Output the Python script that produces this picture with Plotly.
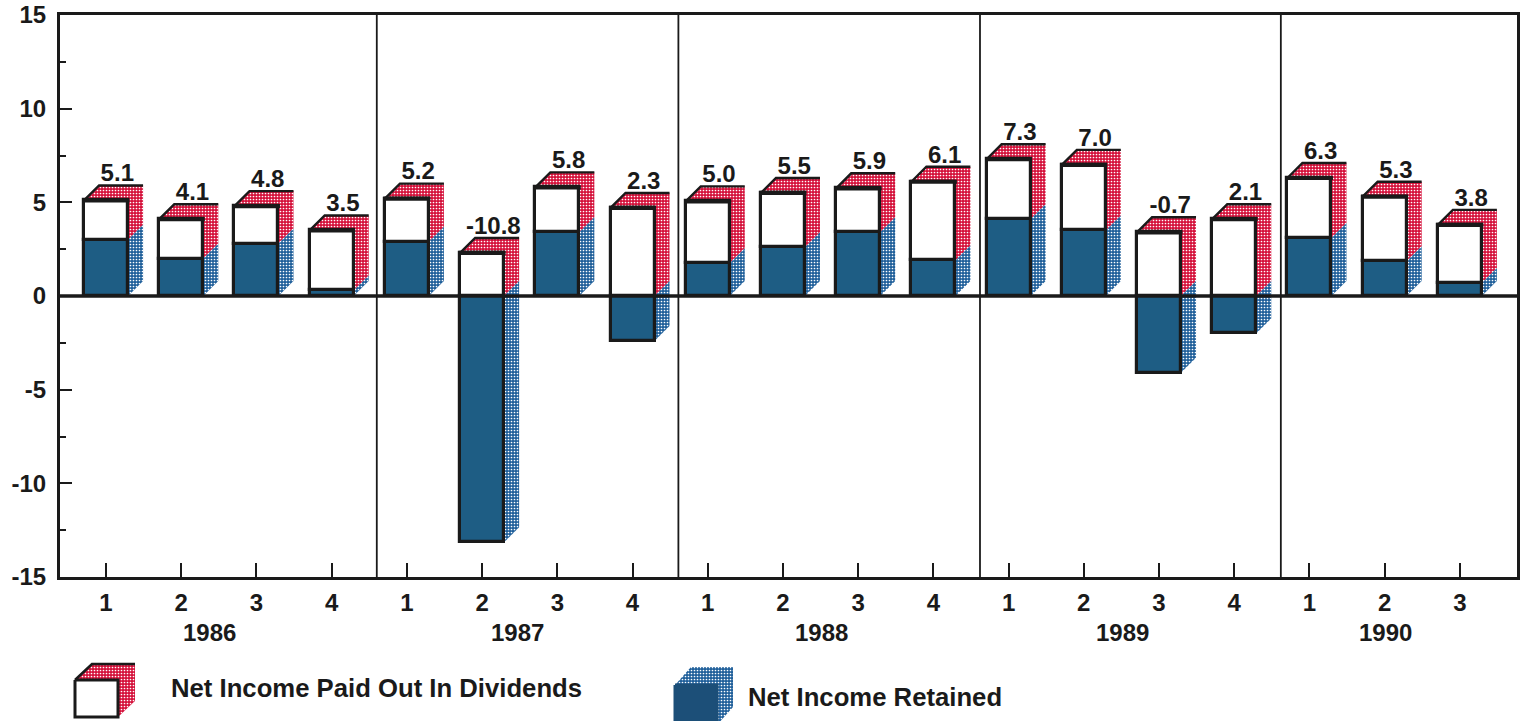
import plotly.graph_objects as go

# ---- data -------------------------------------------------------------
quarters = ["1","2","3","4", "1","2","3","4", "1","2","3","4", "1","2","3","4", "1","2","3"]
years = ["1986", "1987", "1988", "1989", "1990"]
net_income_labels = ["5.1","4.1","4.8","3.5", "5.2","-10.8","5.8","2.3", "5.0","5.5","5.9","6.1",
                     "7.3","7.0","-0.7","2.1", "6.3","5.3","3.8"]
dividends = [2.1,2.1,2.0,3.2, 2.3,2.3,2.4,4.7, 3.3,2.9,2.35,4.2, 3.2,3.5,3.4,4.1, 3.2,3.45,3.1]
retained = [3.0,2.0,2.8,0.3, 2.9,-13.15,3.4,-2.4, 1.75,2.6,3.4,1.9, 4.1,3.5,-4.1,-2.0, 3.1,1.85,0.7]
y_ticks = [-15, -10, -5, 0, 5, 10, 15]
y_tick_labels = ["-15", "-10", "-5", "0", "5", "10", "15"]
y_minor_ticks = [-12.5, -7.5, -2.5, 2.5, 7.5, 12.5]
legend_names = ["Net Income Paid Out In Dividends", "Net Income Retained"]

# ---- layout constants --------------------------------------------------
W, H = 1524, 721
PX_L, PX_R, PX_T, PX_B = 60, 1517, 15, 577
X_RANGE = [-0.612, 18.76]
Y_RANGE = [-15, 15]
BAR_W = 0.585
DX, DY = 0.2, 0.8          # depth of the 3-D look, in axis units
SEPARATORS = [3.6, 7.61, 11.62, 15.62]
YEAR_POS = [1.38, 5.47, 9.52, 13.52, 17.02]
LABEL_DX = 0.15

BLACK = "#1a1a1a"
RED = "#d5103a"
BLUE = "#1e5d84"
BLUE_SIDE = "#1f5f9a"
FONT = "Liberation Sans"

x = list(range(len(quarters)))
base = [max(r, 0) for r in retained]
top = [b + d for b, d in zip(base, dividends)]
lo = [min(r, 0) for r in retained]


def polys(rows):
    xs, ys = [], []
    for pts in rows:
        xs += [p[0] for p in pts] + [pts[0][0], None]
        ys += [p[1] for p in pts] + [pts[0][1], None]
    return xs, ys


def pattern(fg, bg):
    return dict(shape=".", fgcolor=fg, bgcolor=bg, size=3, solidity=0.25, fillmode="replace")


red_faces, blue_faces, edge_x, edge_y = [], [], [], []
for i in x:
    l, r = i - BAR_W / 2, i + BAR_W / 2
    red_faces.append([(l, top[i]), (l + DX, top[i] + DY), (r + DX, top[i] + DY), (r, top[i])])
    red_faces.append([(r, top[i]), (r + DX, top[i] + DY), (r + DX, base[i] + DY), (r, base[i])])
    blue_faces.append([(r, base[i]), (r + DX, base[i] + DY), (r + DX, lo[i] + DY), (r, lo[i])])
    edge_x += [l, l + DX, r + DX, None]
    edge_y += [top[i], top[i] + DY, top[i] + DY, None]

fig = go.Figure()
rx, ry = polys(red_faces)
bx, by = polys(blue_faces)
fig.add_trace(go.Scatter(x=rx, y=ry, mode="none", fill="toself", fillcolor=RED,
                         fillpattern=pattern("#ffffff", RED), hoverinfo="skip", showlegend=False))
fig.add_trace(go.Scatter(x=bx, y=by, mode="none", fill="toself", fillcolor=BLUE_SIDE,
                         fillpattern=pattern("#ffffff", BLUE_SIDE), hoverinfo="skip", showlegend=False))
fig.add_trace(go.Scatter(x=edge_x, y=edge_y, mode="lines", line=dict(color=BLACK, width=2.4),
                         hoverinfo="skip", showlegend=False))

# front faces sit on an overlaying copy of the axes so they cover the faces above
fig.add_trace(go.Bar(x=x, y=retained, width=BAR_W, base=[0] * len(x), name=legend_names[1],
                     marker=dict(color=BLUE, line=dict(color=BLACK, width=3.2)),
                     xaxis="x2", yaxis="y2", showlegend=False))
fig.add_trace(go.Bar(x=x, y=dividends, width=BAR_W, base=base, name=legend_names[0],
                     marker=dict(color="#ffffff", line=dict(color=BLACK, width=3.2)),
                     xaxis="x2", yaxis="y2", showlegend=False))
# heavier front-top edge
tx, ty = [], []
for i in x:
    tx += [i - BAR_W / 2 - 0.02, i + BAR_W / 2 + 0.02, None]
    ty += [top[i], top[i], None]
fig.add_trace(go.Scatter(x=tx, y=ty, mode="lines", line=dict(color=BLACK, width=4.2),
                         xaxis="x2", yaxis="y2", hoverinfo="skip", showlegend=False))
fig.add_trace(go.Scatter(x=[i + LABEL_DX for i in x], y=[t + DY - 0.1 for t in top],
                         mode="text", text=net_income_labels, textposition="top center",
                         textfont=dict(family=FONT, size=24, color=BLACK, weight="bold"),
                         xaxis="x2", yaxis="y2", hoverinfo="skip", showlegend=False))


# legend swatches, on a page-pixel subplot
def swatch(left, right, top_px, bottom_px, dx, dy, front, face, side):
    fx, fy = polys([[(left, top_px), (left + dx, top_px - dy), (right + dx, top_px - dy), (right, top_px)],
                     [(right, top_px), (right + dx, top_px - dy), (right + dx, bottom_px - dy), (right, bottom_px)]])
    fig.add_trace(go.Scatter(x=fx, y=fy, mode="none", fill="toself", fillcolor=face,
                             fillpattern=pattern("#ffffff", side), xaxis="x3", yaxis="y3",
                             hoverinfo="skip", showlegend=False))
    gx, gy = polys([[(left, top_px), (right, top_px), (right, bottom_px), (left, bottom_px)]])
    fig.add_trace(go.Scatter(x=gx, y=gy, mode="lines", fill="toself", fillcolor=front,
                             line=dict(color=BLACK if front == "#ffffff" else front, width=3),
                             xaxis="x3", yaxis="y3", hoverinfo="skip", showlegend=False))
    if front == "#ffffff":
        fig.add_trace(go.Scatter(x=[left, left + dx, right + dx], y=[top_px, top_px - dy, top_px - dy],
                                 mode="lines", line=dict(color=BLACK, width=2.6), xaxis="x3", yaxis="y3",
                                 hoverinfo="skip", showlegend=False))


swatch(75, 118, 680, 717, 17, 16, "#ffffff", RED, RED)
swatch(675, 717, 685, 725, 16, 18, "#1c4f78", BLUE_SIDE, BLUE_SIDE)

axis_common = dict(showgrid=False, zeroline=False, automargin=False)
ann = [dict(x=p, y=632, xref="x3", yref="y3", text=f"<b>{t}</b>", showarrow=False, xanchor="center",
            yanchor="middle", font=dict(family=FONT, size=24, color=BLACK))
       for p, t in zip([106 + 75.2 * q for q in YEAR_POS], years)]
ann += [dict(x=169, y=688, xref="x3", yref="y3", text=f"<b>{legend_names[0]}</b>", showarrow=False,
             xanchor="left", yanchor="middle", font=dict(family=FONT, size=25.7, color=BLACK)),
        dict(x=746, y=697, xref="x3", yref="y3", text=f"<b>{legend_names[1]}</b>", showarrow=False,
             xanchor="left", yanchor="middle", font=dict(family=FONT, size=25.7, color=BLACK))]

shapes = [dict(type="line", xref="x", yref="paper", x0=s, x1=s, y0=(H - PX_B) / H, y1=(H - PX_T) / H,
               line=dict(color=BLACK, width=1.8), layer="above") for s in SEPARATORS]
shapes.append(dict(type="line", xref="x", yref="y", x0=X_RANGE[0], x1=X_RANGE[1], y0=0, y1=0,
                   line=dict(color=BLACK, width=3.6), layer="above"))

dom_x = [PX_L / W, PX_R / W]
dom_y = [(H - PX_B) / H, (H - PX_T) / H]
fig.update_layout(
    width=W, height=H, margin=dict(l=0, r=0, t=0, b=0), paper_bgcolor="#ffffff", plot_bgcolor="rgba(0,0,0,0)",
    showlegend=False, barmode="overlay", bargap=0, annotations=ann, shapes=shapes,
    xaxis=dict(domain=dom_x, range=X_RANGE, tickmode="array", tickvals=x, ticktext=quarters,
               ticks="inside", ticklen=14, tickwidth=1.8, tickcolor=BLACK, showline=True, linewidth=3,
               linecolor=BLACK, mirror=True, ticklabelstandoff=2,
               tickfont=dict(family=FONT, size=24, color=BLACK, weight="bold"), **axis_common),
    yaxis=dict(domain=dom_y, range=Y_RANGE, tickmode="array", tickvals=y_ticks, ticktext=y_tick_labels,
               ticks="inside", ticklen=12, tickwidth=1.8, tickcolor=BLACK, showline=True, linewidth=3,
               linecolor=BLACK, mirror=True, ticklabelstandoff=6,
               minor=dict(tickmode="array", tickvals=y_minor_ticks, ticks="inside",
                          ticklen=6, tickwidth=1.6, tickcolor=BLACK),
               tickfont=dict(family=FONT, size=24, color=BLACK, weight="bold"), **axis_common),
    xaxis2=dict(domain=dom_x, range=X_RANGE, overlaying="x", anchor="y2", visible=False, **axis_common),
    yaxis2=dict(domain=dom_y, range=Y_RANGE, overlaying="y", anchor="x2", visible=False, **axis_common),
    xaxis3=dict(domain=[0, 1], range=[0, W], anchor="y3", visible=False, **axis_common),
    yaxis3=dict(domain=[0, 1], range=[H, 0], anchor="x3", visible=False, **axis_common),
)
fig.write_html("out.html", config={"displayModeBar": False},
               post_script="document.body.style.margin='0';document.documentElement.style.overflow='hidden';")
